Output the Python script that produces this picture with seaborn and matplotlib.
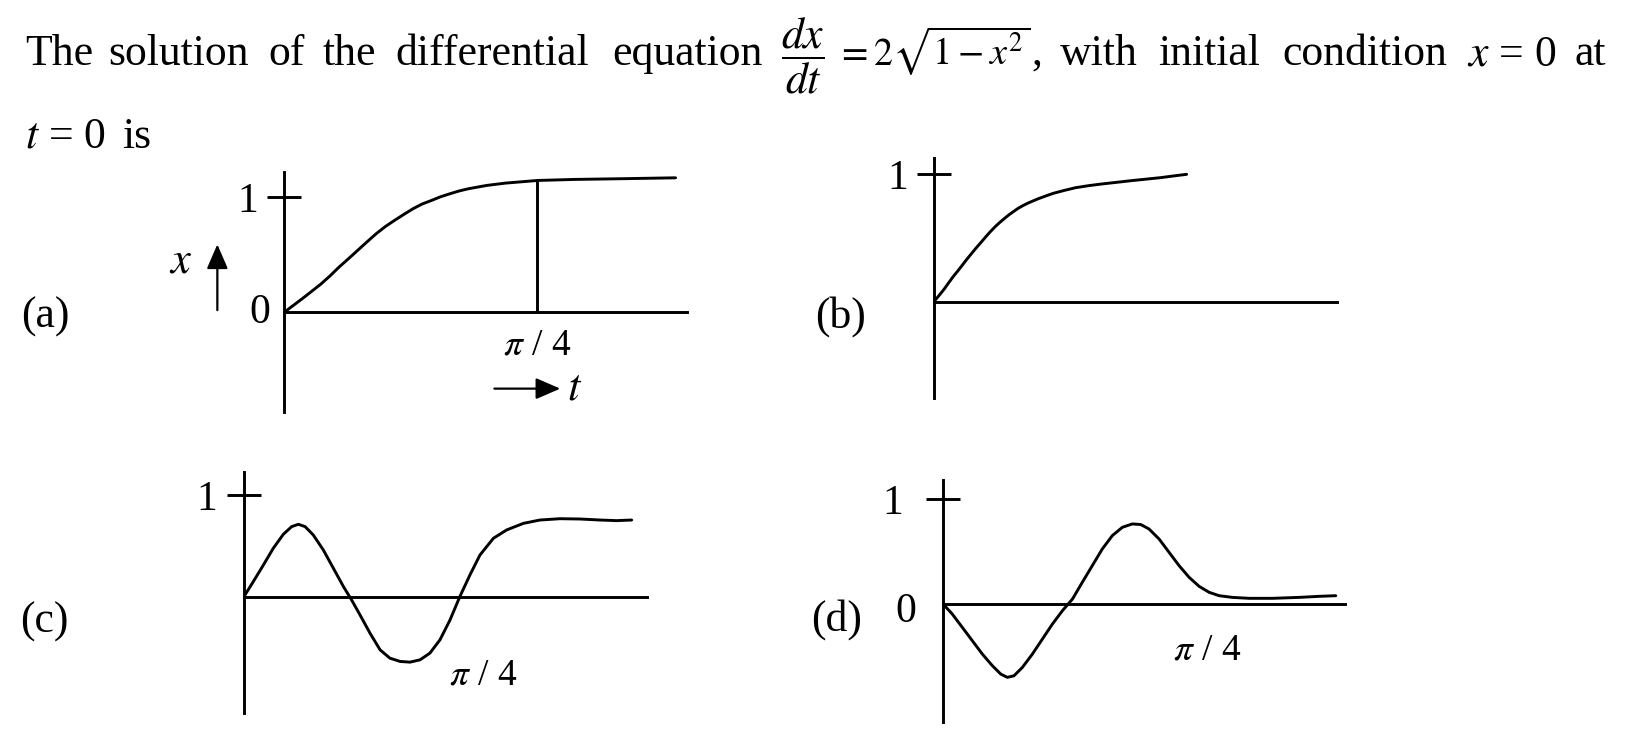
import matplotlib
matplotlib.use("Agg")
import matplotlib.pyplot as plt
import seaborn as sns

W, H = 1636, 737

# question text, word by word (the source is justified)
line1_words = ["The", "solution", "of", "the", "differential", "equation",
               r"$\dfrac{dx}{dt}$", r"$=2\sqrt{1-x^2}$", ",", "with", "initial", "condition",
               r"$x$ = 0", "at"]
line2_words = [r"$t$ = 0", "is"]

# (a) t in units of pi/4
a_t = [0, .036, .073, .109, .145, .182, .218, .255, .291, .327, .364, .400, .436, .473, .509, .545,
       .582, .618, .655, .691, .727, .8, .873, 1.0, 1.145, 1.327, 1.545]
a_x = [0, .060, .121, .183, .245, .318, .395, .467, .539, .611, .683, .745, .798, .850, .899, .940,
       .971, 1.003, 1.029, 1.053, 1.072, 1.101, 1.121, 1.144, 1.153, 1.159, 1.167]

# (b)
b_t = [0, .020, .040, .058, .076, .095, .113, .131, .150, .168, .187, .205, .224, .242, .260, .279,
       .297, .316, .334, .352, .371, .393, .415, .445, .474, .518, .562, .614, .665, .724, .782, .841,
       .900, .950, 1.003]
b_x = [0, .048, .097, .147, .196, .242, .288, .334, .380, .423, .466, .508, .550, .587, .620, .652,
       .681, .708, .733, .753, .772, .791, .809, .831, .851, .874, .895, .911, .924, .937, .950, .962,
       .974, .987, 1.0]

# (c)
c_t = [0, .039, .081, .122, .164, .199, .227, .255, .289, .331, .373, .415, .449, .484, .526, .568,
       .609, .651, .693, .735, .776, .818, .860, .901, .943, .985, 1.041, 1.096, 1.166, 1.235, 1.319,
       1.402, 1.486, 1.555, 1.618]
c_x = [0, .148, .311, .475, .613, .689, .712, .689, .607, .459, .279, .098, -.033, -.180, -.361, -.525,
       -.607, -.639, -.646, -.623, -.557, -.426, -.230, 0, .213, .410, .574, .656, .721, .754, .767,
       .764, .754, .748, .754]

# (d)
d_t = [0, .035, .073, .111, .149, .187, .219, .244, .269, .301, .339, .377, .415, .453, .491, .528,
       .566, .604, .642, .680, .718, .750, .781, .819, .857, .895, .933, .971, 1.009, 1.047, 1.097,
       1.161, 1.249, 1.350, 1.426, 1.489]
d_x = [0, -.095, -.222, -.349, -.476, -.587, -.667, -.698, -.683, -.603, -.476, -.333, -.190, -.063,
       .048, .206, .365, .524, .651, .730, .762, .756, .714, .619, .492, .365, .254, .168, .111, .079,
       .063, .054, .054, .063, .073, .079]

sns.set_style("white")
plt.rcParams["font.family"] = ["Liberation Serif", "DejaVu Serif"]
plt.rcParams["mathtext.fontset"] = "stix"
for key in ("text.color", "axes.labelcolor", "xtick.color", "ytick.color", "axes.edgecolor"):
    plt.rcParams[key] = "black"

fig = plt.figure(figsize=(W / 100, H / 100), dpi=100)

FS = 31.5
LW = 2.1


def ftext(x, y, s, **kw):
    kw.setdefault("fontsize", FS)
    kw.setdefault("va", "baseline")
    fig.text(x / W, 1 - y / H, s, color="black", **kw)


def panel(box, xmax, ylim, t, x, pad):
    l, top, r, bot = box
    ax = fig.add_axes([l / W, 1 - bot / H, (r - l) / W, (bot - top) / H])
    sns.lineplot(x=t, y=x, ax=ax, color="black", lw=LW, estimator=None, sort=False)
    ax.set_xlim(0, xmax)
    ax.set_ylim(*ylim)
    for side in ("top", "right"):
        ax.spines[side].set_visible(False)
    ax.spines["bottom"].set_position(("data", 0))
    for side in ("left", "bottom"):
        ax.spines[side].set_linewidth(LW)
    ax.set_xticks([])
    ax.set_yticks([1])
    ax.set_yticklabels(["1"], fontsize=30)
    ax.tick_params(axis="y", left=True, direction="inout", length=25, width=LW, pad=pad)
    ax.set_xlabel(None)
    ax.set_ylabel(None)
    ax.patch.set_alpha(0)
    return ax


ax_a = panel((284, 171.7, 687, 411.7), 1.59, (-0.86, 1.22), a_t, a_x, 6)
ax_b = panel((934, 158.3, 1337, 398.3), 1.6, (-0.76, 1.126), b_t, b_x, 6)
ax_c = panel((244, 471.7, 647, 713.3), 1.682, (-1.15, 1.23), c_t, c_x, 7)
ax_d = panel((943, 480, 1345, 721.7), 1.524, (-1.12, 1.18), d_t, d_x, 16)

PI4 = r"$\pi$ / 4"
arrow = dict(arrowstyle="-|>,head_length=1.5,head_width=0.65", color="black", lw=1.6,
             shrinkA=0, shrinkB=0)

# (a) extras
i4 = a_t.index(1.0)
ax_a.vlines(a_t[i4], 0, a_x[i4], color="black", lw=LW)
ax_a.text(-0.054, 0, "0", fontsize=30, ha="right", va="center")
ax_a.text(1.0, -0.28, PI4, fontsize=27, ha="center", va="center")
ax_a.text(-0.41, 0.35, r"$x$", fontsize=32, ha="center", va="baseline")
ax_a.annotate("", xy=(-0.263, 0.59), xytext=(-0.263, 0.02), annotation_clip=False, arrowprops=arrow)
ax_a.annotate("", xy=(1.09, -0.66), xytext=(0.83, -0.66), annotation_clip=False, arrowprops=arrow)
ax_a.text(1.115, -0.66, r"$t$", fontsize=32, ha="left", va="center")

ax_c.text(1.0, -0.78, PI4, fontsize=27, ha="center", va="center")
ax_d.text(1.0, -0.444, PI4, fontsize=27, ha="center", va="center")
ax_d.text(-0.102, -0.07, "0", fontsize=30, ha="right", va="center")

# option letters
ftext(21, 317, "(a)", va="center")
ftext(815, 317, "(b)", va="center")
ftext(20, 622, "(c)", va="center")
ftext(811, 620, "(d)", va="center")

# question
word_x = [25, 108, 268, 323, 395, 612, 781, 836, 1031, 1060, 1158, 1282, 1467, 1575]
word_fs = [FS] * 7 + [27.5] + [FS] * 6
for wx, word, fs in zip(word_x, line1_words, word_fs):
    ftext(wx, 65, word, fontsize=fs)
for wx, word in zip([25, 122], line2_words):
    ftext(wx, 148, word)

fig.savefig("out.png", dpi=100, facecolor="white")
